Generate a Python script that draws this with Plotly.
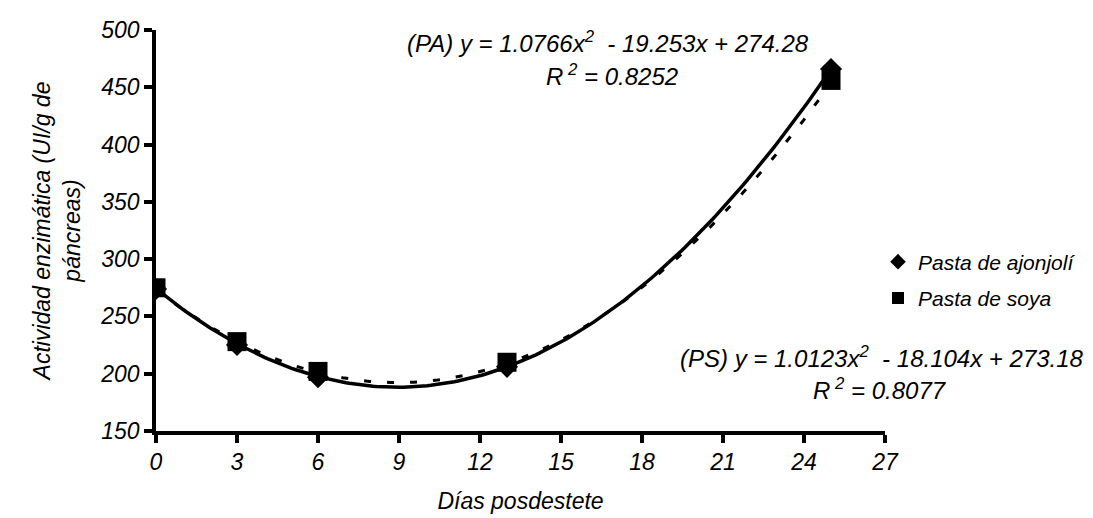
import numpy as np
import plotly.graph_objects as go

dias = [0, 3, 6, 13, 25]
pasta_ajonjoli = [274, 225, 197, 206, 466]
pasta_soya = [275, 228, 202, 210, 456]

# Trendline coefficients shown on the chart (a, b, c) for y = a x^2 + b x + c
coef_pa = [1.0766, -19.253, 274.28]
coef_ps = [1.0123, -18.104, 273.18]

x_tick_vals = [0, 3, 6, 9, 12, 15, 18, 21, 24, 27]
y_tick_vals = [150, 200, 250, 300, 350, 400, 450, 500]

xs = np.linspace(0, 25, 200)
fit_pa = coef_pa[0] * xs**2 + coef_pa[1] * xs + coef_pa[2]
fit_ps = coef_ps[0] * xs**2 + coef_ps[1] * xs + coef_ps[2]

FONT = "Liberation Sans, Arial, sans-serif"
FS = 23
FA = 24

L, R, T, B = 148, 216, 22, 95
W, H = 1093, 518
PW, PH = W - L - R, H - T - B


def px(xp):
    return (xp - L) / PW


def py(yp):
    return (H - B - yp) / PH


fig = go.Figure()
fig.add_trace(go.Scatter(x=xs, y=fit_ps, mode="lines", showlegend=False,
                         line=dict(color="black", width=3, dash="7px,16px"), hoverinfo="skip"))
fig.add_trace(go.Scatter(x=xs, y=fit_pa, mode="lines", showlegend=False,
                         line=dict(color="black", width=3.5), hoverinfo="skip"))
fig.add_trace(go.Scatter(x=dias, y=pasta_ajonjoli, mode="markers", name="Pasta de ajonjolí",
                         legendgroup="a",
                         marker=dict(symbol="diamond", size=17, color="black")))
fig.add_trace(go.Scatter(x=dias, y=pasta_soya, mode="markers", name="Pasta de soya",
                         legendgroup="b",
                         marker=dict(symbol="square", size=19, color="black")))

fig.update_layout(
    width=W, height=H,
    margin=dict(l=L, r=R, t=T, b=B, autoexpand=False),
    paper_bgcolor="white", plot_bgcolor="white",
    font=dict(family=FONT, size=FS, color="black"),
    showlegend=True,
    legend=dict(x=px(870), y=py(272), xanchor="left", yanchor="middle",
                font=dict(family=FONT, size=21, color="black", style="italic"),
                itemsizing="constant", tracegroupgap=6, bgcolor="rgba(0,0,0,0)",
                borderwidth=0),
    xaxis=dict(range=[0, 27], tickvals=x_tick_vals, showgrid=False, zeroline=False,
               showline=True, linecolor="black", linewidth=3.5,
               ticks="outside", ticklen=8, tickwidth=3.5, tickcolor="black",
               tickfont=dict(family=FONT, size=FS, style="italic"),
               title=dict(text="Días posdestete", font=dict(family=FONT, size=FS, style="italic"),
                          standoff=20)),
    yaxis=dict(range=[150, 500], tickvals=y_tick_vals, showgrid=False, zeroline=False,
               showline=True, linecolor="black", linewidth=3.5,
               ticks="outside", ticklen=8, tickwidth=3.5, tickcolor="black",
               tickfont=dict(family=FONT, size=FS, style="italic"),
               title=dict(text="Actividad enzimática (UI/g de<br>páncreas)",
                          font=dict(family=FONT, size=FS, style="italic"), standoff=14)),
)

ann_font = dict(family=FONT, size=FA, color="black", style="italic")
fig.add_annotation(text="(PA) y = 1.0766x<sup>2</sup>  - 19.253x + 274.28", xref="paper", yref="paper",
                   x=px(600), y=py(34), showarrow=False, font=ann_font,
                   xanchor="center", yanchor="middle")
fig.add_annotation(text="R<sup> 2</sup> = 0.8252", xref="paper", yref="paper",
                   x=px(604), y=py(67), showarrow=False, font=ann_font,
                   xanchor="center", yanchor="middle")
fig.add_annotation(text="(PS) y = 1.0123x<sup>2</sup>  - 18.104x + 273.18", xref="paper", yref="paper",
                   x=px(874), y=py(349), showarrow=False, font=ann_font,
                   xanchor="center", yanchor="middle")
fig.add_annotation(text="R<sup> 2</sup> = 0.8077", xref="paper", yref="paper",
                   x=px(872), y=py(381), showarrow=False, font=ann_font,
                   xanchor="center", yanchor="middle")

fig.write_html("out.html")
